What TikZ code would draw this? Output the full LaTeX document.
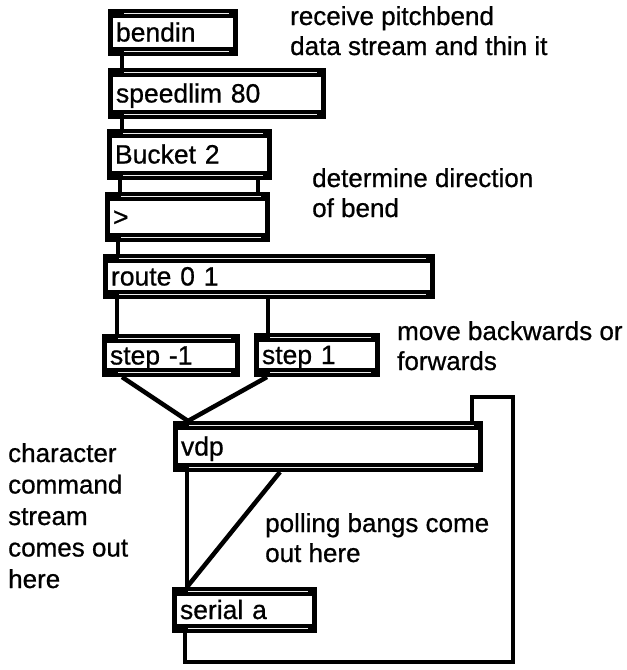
\documentclass[tikz,border=0pt]{standalone}
\usepackage{fontspec}
\setmainfont{Liberation Sans}[FakeBold=0.7]
\begin{document}
\begin{tikzpicture}[x=1pt,y=-1pt,
  maxobj/.style={rectangle, anchor=north west, inner xsep=8pt, inner ysep=0pt, outer sep=0pt,
    align=left, text height=20pt, text depth=2pt,
    font=\fontsize{26.5}{30}\selectfont,
    path picture={
      \fill[black] (path picture bounding box.south west) rectangle (path picture bounding box.north east);
      \fill[white] ([shift={(5pt,-9pt)}]path picture bounding box.north west) rectangle ([shift={(-5pt,9pt)}]path picture bounding box.south east);
      \draw[white!85!gray, line width=1pt] ([shift={(16pt,-4.5pt)}]path picture bounding box.north west) -- ([shift={(-9pt,-4.5pt)}]path picture bounding box.north east);
      \draw[white!85!gray, line width=1pt] ([shift={(16pt,4.5pt)}]path picture bounding box.south west) -- ([shift={(-9pt,4.5pt)}]path picture bounding box.south east);
    }},
  wire/.style={line width=4.5pt, black},
  note/.style={anchor=base west, align=left, inner sep=0pt, font=\fontsize{26}{30}\selectfont}
]
\useasboundingbox (0,0) rectangle (627,670);
\fill[white] (0,0) rectangle (627,670);

% objects
\node[maxobj, minimum width=130pt, minimum height=47pt, text width=114pt] (bendin) at (108,9) {bendin};
\node[maxobj, minimum width=218pt, minimum height=51pt, text width=202pt] (speedlim) at (108,68) {speedlim 80};
\node[maxobj, minimum width=165pt, minimum height=51pt, text width=149pt] (bucket) at (107,129) {Bucket 2};
\node[maxobj, minimum width=165pt, minimum height=50pt, text width=149pt] (gt) at (105,192) {>};
\node[maxobj, minimum width=332pt, minimum height=45pt, text width=316pt] (route) at (103,254) {route 0 1};
\node[maxobj, minimum width=138pt, minimum height=43pt, text width=122pt] (stepm) at (102,334) {step -1};
\node[maxobj, minimum width=126pt, minimum height=44pt, text width=110pt] (stepp) at (254,333) {step 1};
\node[maxobj, minimum width=310pt, minimum height=51pt, text width=294pt] (vdp) at (173,421) {vdp};
\node[maxobj, minimum width=145pt, minimum height=46pt, text width=129pt] (serial) at (172,587) {serial a};

% connections
\draw[wire] ([xshift=14pt]bendin.south west) -- ([xshift=14pt]speedlim.north west);
\draw[wire] ([xshift=14pt]speedlim.south west) -- ([xshift=15pt]bucket.north west);
\draw[wire] ([xshift=13pt]bucket.south west) -- ([xshift=15pt]gt.north west);
\draw[wire] ([xshift=151pt]bucket.south west) -- ([xshift=153pt]gt.north west);
\draw[wire] ([xshift=13pt]gt.south west) -- ([xshift=15pt]route.north west);
\draw[wire] ([xshift=14pt]route.south west) -- ([xshift=15pt]stepm.north west);
\draw[wire] ([xshift=165pt]route.south west) -- ([xshift=14pt]stepp.north west);
\draw[wire] ([xshift=20pt]stepm.south west) -- ([xshift=15pt]vdp.north west);
\draw[wire] ([xshift=13pt]stepp.south west) -- ([xshift=15pt]vdp.north west);
\draw[wire] ([xshift=14pt]vdp.south west) -- ([xshift=15pt]serial.north west);
\draw[wire] ([xshift=107pt]vdp.south west) -- ([xshift=15pt]serial.north west);
\coordinate (loopA) at (513,662);
\coordinate (loopB) at (472,397);
\draw[wire] ([xshift=13pt]serial.south west) |- (loopA) |- (loopB) -- ([xshift=-11pt]vdp.north east);

% comments (anchor at the baseline of the last line)
\node[note] (c1) at (290,55) {receive pitchbend\\data stream and thin it};
\node[note] (c2) at (312,217) {determine direction\\of bend};
\node[note] (c3) at (397,370) {move backwards or\\forwards};
\node[note, font=\fontsize{26}{31.5}\selectfont] (c4) at (8,588) {character\\command\\stream\\comes out\\here};
\node[note] (c5) at (265,562) {polling bangs come\\out here};
\end{tikzpicture}
\end{document}
